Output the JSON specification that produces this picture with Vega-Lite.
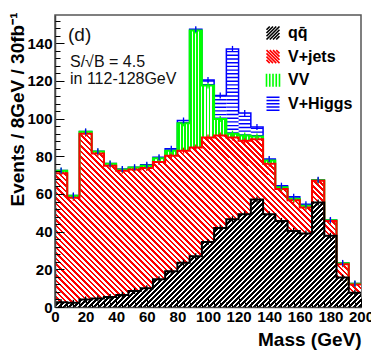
{
"$schema": "https://vega.github.io/schema/vega-lite/v6.json",
"width": 306, "height": 292,
"autosize": {"type": "none"},
"padding": {"left": 55, "top": 15, "right": 10, "bottom": 51},
"background": "white",
"config": {"view": {"stroke": "#555", "strokeWidth": 1.5}, "font": "Liberation Sans", "axis": {"grid": false}},
"data": {"values": [
{"lo":0,"hi":8,"process":"qq\u0304","events":2.5},{"lo":0,"hi":8,"process":"V+jets","events":68.5},{"lo":0,"hi":8,"process":"VV","events":1.3},{"lo":0,"hi":8,"process":"V+Higgs","events":0.2},
{"lo":8,"hi":16,"process":"qq\u0304","events":2.2},{"lo":8,"hi":16,"process":"V+jets","events":55.8},{"lo":8,"hi":16,"process":"VV","events":1.0},{"lo":8,"hi":16,"process":"V+Higgs","events":0.2},
{"lo":16,"hi":24,"process":"qq\u0304","events":4.0},{"lo":16,"hi":24,"process":"V+jets","events":88.0},{"lo":16,"hi":24,"process":"VV","events":1.0},{"lo":16,"hi":24,"process":"V+Higgs","events":0.2},
{"lo":24,"hi":32,"process":"qq\u0304","events":4.5},{"lo":24,"hi":32,"process":"V+jets","events":77.0},{"lo":24,"hi":32,"process":"VV","events":1.0},{"lo":24,"hi":32,"process":"V+Higgs","events":0.2},
{"lo":32,"hi":40,"process":"qq\u0304","events":5.3},{"lo":32,"hi":40,"process":"V+jets","events":69.7},{"lo":32,"hi":40,"process":"VV","events":1.0},{"lo":32,"hi":40,"process":"V+Higgs","events":0.2},
{"lo":40,"hi":48,"process":"qq\u0304","events":6.4},{"lo":40,"hi":48,"process":"V+jets","events":65.9},{"lo":40,"hi":48,"process":"VV","events":0.7},{"lo":40,"hi":48,"process":"V+Higgs","events":0.2},
{"lo":48,"hi":56,"process":"qq\u0304","events":8.5},{"lo":48,"hi":56,"process":"V+jets","events":64.5},{"lo":48,"hi":56,"process":"VV","events":1.0},{"lo":48,"hi":56,"process":"V+Higgs","events":0.2},
{"lo":56,"hi":64,"process":"qq\u0304","events":10.0},{"lo":56,"hi":64,"process":"V+jets","events":63.8},{"lo":56,"hi":64,"process":"VV","events":1.2},{"lo":56,"hi":64,"process":"V+Higgs","events":0.5},
{"lo":64,"hi":72,"process":"qq\u0304","events":14.7},{"lo":64,"hi":72,"process":"V+jets","events":62.3},{"lo":64,"hi":72,"process":"VV","events":2.0},{"lo":64,"hi":72,"process":"V+Higgs","events":0.5},
{"lo":72,"hi":80,"process":"qq\u0304","events":19.0},{"lo":72,"hi":80,"process":"V+jets","events":61.3},{"lo":72,"hi":80,"process":"VV","events":2.7},{"lo":72,"hi":80,"process":"V+Higgs","events":1.0},
{"lo":80,"hi":88,"process":"qq\u0304","events":23.5},{"lo":80,"hi":88,"process":"V+jets","events":59.5},{"lo":80,"hi":88,"process":"VV","events":14.5},{"lo":80,"hi":88,"process":"V+Higgs","events":1.5},
{"lo":88,"hi":96,"process":"qq\u0304","events":27.0},{"lo":88,"hi":96,"process":"V+jets","events":57.7},{"lo":88,"hi":96,"process":"VV","events":62.1},{"lo":88,"hi":96,"process":"V+Higgs","events":0.7},
{"lo":96,"hi":104,"process":"qq\u0304","events":34.5},{"lo":96,"hi":104,"process":"V+jets","events":55.5},{"lo":96,"hi":104,"process":"VV","events":27.6},{"lo":96,"hi":104,"process":"V+Higgs","events":2.9},
{"lo":104,"hi":112,"process":"qq\u0304","events":42.0},{"lo":104,"hi":112,"process":"V+jets","events":49.0},{"lo":104,"hi":112,"process":"VV","events":8.8},{"lo":104,"hi":112,"process":"V+Higgs","events":12.5},
{"lo":112,"hi":120,"process":"qq\u0304","events":46.6},{"lo":112,"hi":120,"process":"V+jets","events":43.4},{"lo":112,"hi":120,"process":"VV","events":2.0},{"lo":112,"hi":120,"process":"V+Higgs","events":45.0},
{"lo":120,"hi":128,"process":"qq\u0304","events":49.3},{"lo":120,"hi":128,"process":"V+jets","events":39.0},{"lo":120,"hi":128,"process":"VV","events":2.7},{"lo":120,"hi":128,"process":"V+Higgs","events":12.0},
{"lo":128,"hi":136,"process":"qq\u0304","events":57.0},{"lo":128,"hi":136,"process":"V+jets","events":32.0},{"lo":128,"hi":136,"process":"VV","events":1.5},{"lo":128,"hi":136,"process":"V+Higgs","events":5.0},
{"lo":136,"hi":144,"process":"qq\u0304","events":49.3},{"lo":136,"hi":144,"process":"V+jets","events":26.7},{"lo":136,"hi":144,"process":"VV","events":1.7},{"lo":136,"hi":144,"process":"V+Higgs","events":0.8},
{"lo":144,"hi":152,"process":"qq\u0304","events":45.7},{"lo":144,"hi":152,"process":"V+jets","events":16.9},{"lo":144,"hi":152,"process":"VV","events":0.9},{"lo":144,"hi":152,"process":"V+Higgs","events":0.9},
{"lo":152,"hi":160,"process":"qq\u0304","events":40.4},{"lo":152,"hi":160,"process":"V+jets","events":16.3},{"lo":152,"hi":160,"process":"VV","events":0.8},{"lo":152,"hi":160,"process":"V+Higgs","events":1.0},
{"lo":160,"hi":168,"process":"qq\u0304","events":39.0},{"lo":160,"hi":168,"process":"V+jets","events":13.8},{"lo":160,"hi":168,"process":"VV","events":1.0},{"lo":160,"hi":168,"process":"V+Higgs","events":0.8},
{"lo":168,"hi":176,"process":"qq\u0304","events":55.5},{"lo":168,"hi":176,"process":"V+jets","events":11.5},{"lo":168,"hi":176,"process":"VV","events":0.3},{"lo":168,"hi":176,"process":"V+Higgs","events":0.2},
{"lo":176,"hi":184,"process":"qq\u0304","events":37.8},{"lo":176,"hi":184,"process":"V+jets","events":7.9},{"lo":176,"hi":184,"process":"VV","events":0.3},{"lo":176,"hi":184,"process":"V+Higgs","events":0.2},
{"lo":184,"hi":192,"process":"qq\u0304","events":15.6},{"lo":184,"hi":192,"process":"V+jets","events":7.1},{"lo":184,"hi":192,"process":"VV","events":0.5},{"lo":184,"hi":192,"process":"V+Higgs","events":0.2},
{"lo":192,"hi":200,"process":"qq\u0304","events":7.6},{"lo":192,"hi":200,"process":"V+jets","events":4.4},{"lo":192,"hi":200,"process":"VV","events":0.3},{"lo":192,"hi":200,"process":"V+Higgs","events":0.2}
]},
"transform": [{"stack": "events", "groupby": ["lo"], "as": ["y0", "y1"]}],
"resolve": {"axis": {"x": "independent", "y": "independent"}},
"layer": [
{
"transform": [{"filter": {"field": "process", "equal": "qq\u0304"}}, {"fold": ["lo", "hi"], "as": ["edge", "mass"]}],
"mark": {"type": "area", "strokeWidth": 0, "fill": {"gradient": "linear", "x1": 0, "y1": 0, "x2": 1.455, "y2": 0.511, "stops": [
{"offset":0,"color":"#000"},{"offset":0.005,"color":"#000"},{"offset":0.005,"color":"#fff"},{"offset":0.01,"color":"#fff"},{"offset":0.01,"color":"#000"},{"offset":0.015,"color":"#000"},{"offset":0.015,"color":"#fff"},{"offset":0.02,"color":"#fff"},{"offset":0.02,"color":"#000"},{"offset":0.025,"color":"#000"},{"offset":0.025,"color":"#fff"},{"offset":0.03,"color":"#fff"},{"offset":0.03,"color":"#000"},{"offset":0.035,"color":"#000"},{"offset":0.035,"color":"#fff"},{"offset":0.04,"color":"#fff"},{"offset":0.04,"color":"#000"},{"offset":0.045,"color":"#000"},{"offset":0.045,"color":"#fff"},{"offset":0.05,"color":"#fff"},
{"offset":0.05,"color":"#000"},{"offset":0.055,"color":"#000"},{"offset":0.055,"color":"#fff"},{"offset":0.06,"color":"#fff"},{"offset":0.06,"color":"#000"},{"offset":0.065,"color":"#000"},{"offset":0.065,"color":"#fff"},{"offset":0.07,"color":"#fff"},{"offset":0.07,"color":"#000"},{"offset":0.075,"color":"#000"},{"offset":0.075,"color":"#fff"},{"offset":0.08,"color":"#fff"},{"offset":0.08,"color":"#000"},{"offset":0.085,"color":"#000"},{"offset":0.085,"color":"#fff"},{"offset":0.09,"color":"#fff"},{"offset":0.09,"color":"#000"},{"offset":0.095,"color":"#000"},{"offset":0.095,"color":"#fff"},{"offset":0.1,"color":"#fff"},
{"offset":0.1,"color":"#000"},{"offset":0.105,"color":"#000"},{"offset":0.105,"color":"#fff"},{"offset":0.11,"color":"#fff"},{"offset":0.11,"color":"#000"},{"offset":0.115,"color":"#000"},{"offset":0.115,"color":"#fff"},{"offset":0.12,"color":"#fff"},{"offset":0.12,"color":"#000"},{"offset":0.125,"color":"#000"},{"offset":0.125,"color":"#fff"},{"offset":0.13,"color":"#fff"},{"offset":0.13,"color":"#000"},{"offset":0.135,"color":"#000"},{"offset":0.135,"color":"#fff"},{"offset":0.14,"color":"#fff"},{"offset":0.14,"color":"#000"},{"offset":0.145,"color":"#000"},{"offset":0.145,"color":"#fff"},{"offset":0.15,"color":"#fff"},
{"offset":0.15,"color":"#000"},{"offset":0.155,"color":"#000"},{"offset":0.155,"color":"#fff"},{"offset":0.16,"color":"#fff"},{"offset":0.16,"color":"#000"},{"offset":0.165,"color":"#000"},{"offset":0.165,"color":"#fff"},{"offset":0.17,"color":"#fff"},{"offset":0.17,"color":"#000"},{"offset":0.175,"color":"#000"},{"offset":0.175,"color":"#fff"},{"offset":0.18,"color":"#fff"},{"offset":0.18,"color":"#000"},{"offset":0.185,"color":"#000"},{"offset":0.185,"color":"#fff"},{"offset":0.19,"color":"#fff"},{"offset":0.19,"color":"#000"},{"offset":0.195,"color":"#000"},{"offset":0.195,"color":"#fff"},{"offset":0.2,"color":"#fff"},
{"offset":0.2,"color":"#000"},{"offset":0.205,"color":"#000"},{"offset":0.205,"color":"#fff"},{"offset":0.21,"color":"#fff"},{"offset":0.21,"color":"#000"},{"offset":0.215,"color":"#000"},{"offset":0.215,"color":"#fff"},{"offset":0.22,"color":"#fff"},{"offset":0.22,"color":"#000"},{"offset":0.225,"color":"#000"},{"offset":0.225,"color":"#fff"},{"offset":0.23,"color":"#fff"},{"offset":0.23,"color":"#000"},{"offset":0.235,"color":"#000"},{"offset":0.235,"color":"#fff"},{"offset":0.24,"color":"#fff"},{"offset":0.24,"color":"#000"},{"offset":0.245,"color":"#000"},{"offset":0.245,"color":"#fff"},{"offset":0.25,"color":"#fff"},
{"offset":0.25,"color":"#000"},{"offset":0.255,"color":"#000"},{"offset":0.255,"color":"#fff"},{"offset":0.26,"color":"#fff"},{"offset":0.26,"color":"#000"},{"offset":0.265,"color":"#000"},{"offset":0.265,"color":"#fff"},{"offset":0.27,"color":"#fff"},{"offset":0.27,"color":"#000"},{"offset":0.275,"color":"#000"},{"offset":0.275,"color":"#fff"},{"offset":0.28,"color":"#fff"},{"offset":0.28,"color":"#000"},{"offset":0.285,"color":"#000"},{"offset":0.285,"color":"#fff"},{"offset":0.29,"color":"#fff"},{"offset":0.29,"color":"#000"},{"offset":0.295,"color":"#000"},{"offset":0.295,"color":"#fff"},{"offset":0.3,"color":"#fff"},
{"offset":0.3,"color":"#000"},{"offset":0.305,"color":"#000"},{"offset":0.305,"color":"#fff"},{"offset":0.31,"color":"#fff"},{"offset":0.31,"color":"#000"},{"offset":0.315,"color":"#000"},{"offset":0.315,"color":"#fff"},{"offset":0.32,"color":"#fff"},{"offset":0.32,"color":"#000"},{"offset":0.325,"color":"#000"},{"offset":0.325,"color":"#fff"},{"offset":0.33,"color":"#fff"},{"offset":0.33,"color":"#000"},{"offset":0.335,"color":"#000"},{"offset":0.335,"color":"#fff"},{"offset":0.34,"color":"#fff"},{"offset":0.34,"color":"#000"},{"offset":0.345,"color":"#000"},{"offset":0.345,"color":"#fff"},{"offset":0.35,"color":"#fff"},
{"offset":0.35,"color":"#000"},{"offset":0.355,"color":"#000"},{"offset":0.355,"color":"#fff"},{"offset":0.36,"color":"#fff"},{"offset":0.36,"color":"#000"},{"offset":0.365,"color":"#000"},{"offset":0.365,"color":"#fff"},{"offset":0.37,"color":"#fff"},{"offset":0.37,"color":"#000"},{"offset":0.375,"color":"#000"},{"offset":0.375,"color":"#fff"},{"offset":0.38,"color":"#fff"},{"offset":0.38,"color":"#000"},{"offset":0.385,"color":"#000"},{"offset":0.385,"color":"#fff"},{"offset":0.39,"color":"#fff"},{"offset":0.39,"color":"#000"},{"offset":0.395,"color":"#000"},{"offset":0.395,"color":"#fff"},{"offset":0.4,"color":"#fff"},
{"offset":0.4,"color":"#000"},{"offset":0.405,"color":"#000"},{"offset":0.405,"color":"#fff"},{"offset":0.41,"color":"#fff"},{"offset":0.41,"color":"#000"},{"offset":0.415,"color":"#000"},{"offset":0.415,"color":"#fff"},{"offset":0.42,"color":"#fff"},{"offset":0.42,"color":"#000"},{"offset":0.425,"color":"#000"},{"offset":0.425,"color":"#fff"},{"offset":0.43,"color":"#fff"},{"offset":0.43,"color":"#000"},{"offset":0.435,"color":"#000"},{"offset":0.435,"color":"#fff"},{"offset":0.44,"color":"#fff"},{"offset":0.44,"color":"#000"},{"offset":0.445,"color":"#000"},{"offset":0.445,"color":"#fff"},{"offset":0.45,"color":"#fff"},
{"offset":0.45,"color":"#000"},{"offset":0.455,"color":"#000"},{"offset":0.455,"color":"#fff"},{"offset":0.46,"color":"#fff"},{"offset":0.46,"color":"#000"},{"offset":0.465,"color":"#000"},{"offset":0.465,"color":"#fff"},{"offset":0.47,"color":"#fff"},{"offset":0.47,"color":"#000"},{"offset":0.475,"color":"#000"},{"offset":0.475,"color":"#fff"},{"offset":0.48,"color":"#fff"},{"offset":0.48,"color":"#000"},{"offset":0.485,"color":"#000"},{"offset":0.485,"color":"#fff"},{"offset":0.49,"color":"#fff"},{"offset":0.49,"color":"#000"},{"offset":0.495,"color":"#000"},{"offset":0.495,"color":"#fff"},{"offset":0.5,"color":"#fff"},
{"offset":0.5,"color":"#000"},{"offset":0.505,"color":"#000"},{"offset":0.505,"color":"#fff"},{"offset":0.51,"color":"#fff"},{"offset":0.51,"color":"#000"},{"offset":0.515,"color":"#000"},{"offset":0.515,"color":"#fff"},{"offset":0.52,"color":"#fff"},{"offset":0.52,"color":"#000"},{"offset":0.525,"color":"#000"},{"offset":0.525,"color":"#fff"},{"offset":0.53,"color":"#fff"},{"offset":0.53,"color":"#000"},{"offset":0.535,"color":"#000"},{"offset":0.535,"color":"#fff"},{"offset":0.54,"color":"#fff"},{"offset":0.54,"color":"#000"},{"offset":0.545,"color":"#000"},{"offset":0.545,"color":"#fff"},{"offset":0.55,"color":"#fff"},
{"offset":0.55,"color":"#000"},{"offset":0.555,"color":"#000"},{"offset":0.555,"color":"#fff"},{"offset":0.56,"color":"#fff"},{"offset":0.56,"color":"#000"},{"offset":0.565,"color":"#000"},{"offset":0.565,"color":"#fff"},{"offset":0.57,"color":"#fff"},{"offset":0.57,"color":"#000"},{"offset":0.575,"color":"#000"},{"offset":0.575,"color":"#fff"},{"offset":0.58,"color":"#fff"},{"offset":0.58,"color":"#000"},{"offset":0.585,"color":"#000"},{"offset":0.585,"color":"#fff"},{"offset":0.59,"color":"#fff"},{"offset":0.59,"color":"#000"},{"offset":0.595,"color":"#000"},{"offset":0.595,"color":"#fff"},{"offset":0.6,"color":"#fff"},
{"offset":0.6,"color":"#000"},{"offset":0.605,"color":"#000"},{"offset":0.605,"color":"#fff"},{"offset":0.61,"color":"#fff"},{"offset":0.61,"color":"#000"},{"offset":0.615,"color":"#000"},{"offset":0.615,"color":"#fff"},{"offset":0.62,"color":"#fff"},{"offset":0.62,"color":"#000"},{"offset":0.625,"color":"#000"},{"offset":0.625,"color":"#fff"},{"offset":0.63,"color":"#fff"},{"offset":0.63,"color":"#000"},{"offset":0.635,"color":"#000"},{"offset":0.635,"color":"#fff"},{"offset":0.64,"color":"#fff"},{"offset":0.64,"color":"#000"},{"offset":0.645,"color":"#000"},{"offset":0.645,"color":"#fff"},{"offset":0.65,"color":"#fff"},
{"offset":0.65,"color":"#000"},{"offset":0.655,"color":"#000"},{"offset":0.655,"color":"#fff"},{"offset":0.66,"color":"#fff"},{"offset":0.66,"color":"#000"},{"offset":0.665,"color":"#000"},{"offset":0.665,"color":"#fff"},{"offset":0.67,"color":"#fff"},{"offset":0.67,"color":"#000"},{"offset":0.675,"color":"#000"},{"offset":0.675,"color":"#fff"},{"offset":0.68,"color":"#fff"},{"offset":0.68,"color":"#000"},{"offset":0.685,"color":"#000"},{"offset":0.685,"color":"#fff"},{"offset":0.69,"color":"#fff"},{"offset":0.69,"color":"#000"},{"offset":0.695,"color":"#000"},{"offset":0.695,"color":"#fff"},{"offset":0.7,"color":"#fff"},
{"offset":0.7,"color":"#000"},{"offset":0.705,"color":"#000"},{"offset":0.705,"color":"#fff"},{"offset":0.71,"color":"#fff"},{"offset":0.71,"color":"#000"},{"offset":0.715,"color":"#000"},{"offset":0.715,"color":"#fff"},{"offset":0.72,"color":"#fff"},{"offset":0.72,"color":"#000"},{"offset":0.725,"color":"#000"},{"offset":0.725,"color":"#fff"},{"offset":0.73,"color":"#fff"},{"offset":0.73,"color":"#000"},{"offset":0.735,"color":"#000"},{"offset":0.735,"color":"#fff"},{"offset":0.74,"color":"#fff"},{"offset":0.74,"color":"#000"},{"offset":0.745,"color":"#000"},{"offset":0.745,"color":"#fff"},{"offset":0.75,"color":"#fff"},
{"offset":0.75,"color":"#000"},{"offset":0.755,"color":"#000"},{"offset":0.755,"color":"#fff"},{"offset":0.76,"color":"#fff"},{"offset":0.76,"color":"#000"},{"offset":0.765,"color":"#000"},{"offset":0.765,"color":"#fff"},{"offset":0.77,"color":"#fff"},{"offset":0.77,"color":"#000"},{"offset":0.775,"color":"#000"},{"offset":0.775,"color":"#fff"},{"offset":0.78,"color":"#fff"},{"offset":0.78,"color":"#000"},{"offset":0.785,"color":"#000"},{"offset":0.785,"color":"#fff"},{"offset":0.79,"color":"#fff"},{"offset":0.79,"color":"#000"},{"offset":0.795,"color":"#000"},{"offset":0.795,"color":"#fff"},{"offset":0.8,"color":"#fff"},
{"offset":0.8,"color":"#000"},{"offset":0.805,"color":"#000"},{"offset":0.805,"color":"#fff"},{"offset":0.81,"color":"#fff"},{"offset":0.81,"color":"#000"},{"offset":0.815,"color":"#000"},{"offset":0.815,"color":"#fff"},{"offset":0.82,"color":"#fff"},{"offset":0.82,"color":"#000"},{"offset":0.825,"color":"#000"},{"offset":0.825,"color":"#fff"},{"offset":0.83,"color":"#fff"},{"offset":0.83,"color":"#000"},{"offset":0.835,"color":"#000"},{"offset":0.835,"color":"#fff"},{"offset":0.84,"color":"#fff"}
]}},
"encoding": {
"x": {"field": "mass", "type": "quantitative", "scale": {"domain": [0, 200], "nice": false, "zero": false},
 "axis": {"orient": "bottom", "values": [0,20,40,60,80,100,120,140,160,180,200], "tickSize": -9, "tickColor": "#000", "tickWidth": 1, "domainColor": "#444", "domainWidth": 1.5, "labelPadding": 11, "labelFontSize": 15, "labelFontWeight": "bold", "labelColor": "#000", "labelFlush": false, "labelOverlap": false, "title": "Mass (GeV)", "titleFontSize": 19, "titleFontWeight": "bold", "titleColor": "#000", "titleAlign": "right", "titleBaseline": "alphabetic", "titleX": 306, "titleY": 38, "zindex": 1}},
"y": {"field": "y1", "type": "quantitative", "scale": {"domain": [0, 155], "nice": false},
 "axis": {"orient": "left", "values": [0,20,40,60,80,100,120,140], "tickSize": -9, "tickColor": "#000", "tickWidth": 1, "domainColor": "#444", "domainWidth": 1.5, "labelPadding": 12, "labelFontSize": 15, "labelFontWeight": "bold", "labelColor": "#000", "labelOverlap": false, "title": "Events / 8GeV / 30fb\u207b\u00b9", "titleFontSize": 19, "titleFontWeight": "bold", "titleColor": "#000", "titleAngle": -90, "titleAlign": "right", "titleBaseline": "middle", "titleX": -38, "titleY": -3, "zindex": 1}},
"y2": {"field": "y0"},
"order": [{"field": "mass", "type": "quantitative"}, {"field": "lo", "type": "quantitative"}]
}
},
{
"transform": [{"filter": {"field": "process", "equal": "V+jets"}}, {"fold": ["lo", "hi"], "as": ["edge", "mass"]}],
"mark": {"type": "area", "strokeWidth": 0, "fill": {"gradient": "linear", "x1": 0, "y1": 1, "x2": 1.376, "y2": 0.239, "stops": [
{"offset":0,"color":"#f00"},{"offset":0.005,"color":"#f00"},{"offset":0.005,"color":"#fff"},{"offset":0.01,"color":"#fff"},{"offset":0.01,"color":"#f00"},{"offset":0.015,"color":"#f00"},{"offset":0.015,"color":"#fff"},{"offset":0.02,"color":"#fff"},{"offset":0.02,"color":"#f00"},{"offset":0.025,"color":"#f00"},{"offset":0.025,"color":"#fff"},{"offset":0.03,"color":"#fff"},{"offset":0.03,"color":"#f00"},{"offset":0.035,"color":"#f00"},{"offset":0.035,"color":"#fff"},{"offset":0.04,"color":"#fff"},{"offset":0.04,"color":"#f00"},{"offset":0.045,"color":"#f00"},{"offset":0.045,"color":"#fff"},{"offset":0.05,"color":"#fff"},
{"offset":0.05,"color":"#f00"},{"offset":0.055,"color":"#f00"},{"offset":0.055,"color":"#fff"},{"offset":0.06,"color":"#fff"},{"offset":0.06,"color":"#f00"},{"offset":0.065,"color":"#f00"},{"offset":0.065,"color":"#fff"},{"offset":0.07,"color":"#fff"},{"offset":0.07,"color":"#f00"},{"offset":0.075,"color":"#f00"},{"offset":0.075,"color":"#fff"},{"offset":0.08,"color":"#fff"},{"offset":0.08,"color":"#f00"},{"offset":0.085,"color":"#f00"},{"offset":0.085,"color":"#fff"},{"offset":0.09,"color":"#fff"},{"offset":0.09,"color":"#f00"},{"offset":0.095,"color":"#f00"},{"offset":0.095,"color":"#fff"},{"offset":0.1,"color":"#fff"},
{"offset":0.1,"color":"#f00"},{"offset":0.105,"color":"#f00"},{"offset":0.105,"color":"#fff"},{"offset":0.11,"color":"#fff"},{"offset":0.11,"color":"#f00"},{"offset":0.115,"color":"#f00"},{"offset":0.115,"color":"#fff"},{"offset":0.12,"color":"#fff"},{"offset":0.12,"color":"#f00"},{"offset":0.125,"color":"#f00"},{"offset":0.125,"color":"#fff"},{"offset":0.13,"color":"#fff"},{"offset":0.13,"color":"#f00"},{"offset":0.135,"color":"#f00"},{"offset":0.135,"color":"#fff"},{"offset":0.14,"color":"#fff"},{"offset":0.14,"color":"#f00"},{"offset":0.145,"color":"#f00"},{"offset":0.145,"color":"#fff"},{"offset":0.15,"color":"#fff"},
{"offset":0.15,"color":"#f00"},{"offset":0.155,"color":"#f00"},{"offset":0.155,"color":"#fff"},{"offset":0.16,"color":"#fff"},{"offset":0.16,"color":"#f00"},{"offset":0.165,"color":"#f00"},{"offset":0.165,"color":"#fff"},{"offset":0.17,"color":"#fff"},{"offset":0.17,"color":"#f00"},{"offset":0.175,"color":"#f00"},{"offset":0.175,"color":"#fff"},{"offset":0.18,"color":"#fff"},{"offset":0.18,"color":"#f00"},{"offset":0.185,"color":"#f00"},{"offset":0.185,"color":"#fff"},{"offset":0.19,"color":"#fff"},{"offset":0.19,"color":"#f00"},{"offset":0.195,"color":"#f00"},{"offset":0.195,"color":"#fff"},{"offset":0.2,"color":"#fff"},
{"offset":0.2,"color":"#f00"},{"offset":0.205,"color":"#f00"},{"offset":0.205,"color":"#fff"},{"offset":0.21,"color":"#fff"},{"offset":0.21,"color":"#f00"},{"offset":0.215,"color":"#f00"},{"offset":0.215,"color":"#fff"},{"offset":0.22,"color":"#fff"},{"offset":0.22,"color":"#f00"},{"offset":0.225,"color":"#f00"},{"offset":0.225,"color":"#fff"},{"offset":0.23,"color":"#fff"},{"offset":0.23,"color":"#f00"},{"offset":0.235,"color":"#f00"},{"offset":0.235,"color":"#fff"},{"offset":0.24,"color":"#fff"},{"offset":0.24,"color":"#f00"},{"offset":0.245,"color":"#f00"},{"offset":0.245,"color":"#fff"},{"offset":0.25,"color":"#fff"},
{"offset":0.25,"color":"#f00"},{"offset":0.255,"color":"#f00"},{"offset":0.255,"color":"#fff"},{"offset":0.26,"color":"#fff"},{"offset":0.26,"color":"#f00"},{"offset":0.265,"color":"#f00"},{"offset":0.265,"color":"#fff"},{"offset":0.27,"color":"#fff"},{"offset":0.27,"color":"#f00"},{"offset":0.275,"color":"#f00"},{"offset":0.275,"color":"#fff"},{"offset":0.28,"color":"#fff"},{"offset":0.28,"color":"#f00"},{"offset":0.285,"color":"#f00"},{"offset":0.285,"color":"#fff"},{"offset":0.29,"color":"#fff"},{"offset":0.29,"color":"#f00"},{"offset":0.295,"color":"#f00"},{"offset":0.295,"color":"#fff"},{"offset":0.3,"color":"#fff"},
{"offset":0.3,"color":"#f00"},{"offset":0.305,"color":"#f00"},{"offset":0.305,"color":"#fff"},{"offset":0.31,"color":"#fff"},{"offset":0.31,"color":"#f00"},{"offset":0.315,"color":"#f00"},{"offset":0.315,"color":"#fff"},{"offset":0.32,"color":"#fff"},{"offset":0.32,"color":"#f00"},{"offset":0.325,"color":"#f00"},{"offset":0.325,"color":"#fff"},{"offset":0.33,"color":"#fff"},{"offset":0.33,"color":"#f00"},{"offset":0.335,"color":"#f00"},{"offset":0.335,"color":"#fff"},{"offset":0.34,"color":"#fff"},{"offset":0.34,"color":"#f00"},{"offset":0.345,"color":"#f00"},{"offset":0.345,"color":"#fff"},{"offset":0.35,"color":"#fff"},
{"offset":0.35,"color":"#f00"},{"offset":0.355,"color":"#f00"},{"offset":0.355,"color":"#fff"},{"offset":0.36,"color":"#fff"},{"offset":0.36,"color":"#f00"},{"offset":0.365,"color":"#f00"},{"offset":0.365,"color":"#fff"},{"offset":0.37,"color":"#fff"},{"offset":0.37,"color":"#f00"},{"offset":0.375,"color":"#f00"},{"offset":0.375,"color":"#fff"},{"offset":0.38,"color":"#fff"},{"offset":0.38,"color":"#f00"},{"offset":0.385,"color":"#f00"},{"offset":0.385,"color":"#fff"},{"offset":0.39,"color":"#fff"},{"offset":0.39,"color":"#f00"},{"offset":0.395,"color":"#f00"},{"offset":0.395,"color":"#fff"},{"offset":0.4,"color":"#fff"},
{"offset":0.4,"color":"#f00"},{"offset":0.405,"color":"#f00"},{"offset":0.405,"color":"#fff"},{"offset":0.41,"color":"#fff"},{"offset":0.41,"color":"#f00"},{"offset":0.415,"color":"#f00"},{"offset":0.415,"color":"#fff"},{"offset":0.42,"color":"#fff"},{"offset":0.42,"color":"#f00"},{"offset":0.425,"color":"#f00"},{"offset":0.425,"color":"#fff"},{"offset":0.43,"color":"#fff"},{"offset":0.43,"color":"#f00"},{"offset":0.435,"color":"#f00"},{"offset":0.435,"color":"#fff"},{"offset":0.44,"color":"#fff"},{"offset":0.44,"color":"#f00"},{"offset":0.445,"color":"#f00"},{"offset":0.445,"color":"#fff"},{"offset":0.45,"color":"#fff"},
{"offset":0.45,"color":"#f00"},{"offset":0.455,"color":"#f00"},{"offset":0.455,"color":"#fff"},{"offset":0.46,"color":"#fff"},{"offset":0.46,"color":"#f00"},{"offset":0.465,"color":"#f00"},{"offset":0.465,"color":"#fff"},{"offset":0.47,"color":"#fff"},{"offset":0.47,"color":"#f00"},{"offset":0.475,"color":"#f00"},{"offset":0.475,"color":"#fff"},{"offset":0.48,"color":"#fff"},{"offset":0.48,"color":"#f00"},{"offset":0.485,"color":"#f00"},{"offset":0.485,"color":"#fff"},{"offset":0.49,"color":"#fff"},{"offset":0.49,"color":"#f00"},{"offset":0.495,"color":"#f00"},{"offset":0.495,"color":"#fff"},{"offset":0.5,"color":"#fff"},
{"offset":0.5,"color":"#f00"},{"offset":0.505,"color":"#f00"},{"offset":0.505,"color":"#fff"},{"offset":0.51,"color":"#fff"},{"offset":0.51,"color":"#f00"},{"offset":0.515,"color":"#f00"},{"offset":0.515,"color":"#fff"},{"offset":0.52,"color":"#fff"},{"offset":0.52,"color":"#f00"},{"offset":0.525,"color":"#f00"},{"offset":0.525,"color":"#fff"},{"offset":0.53,"color":"#fff"},{"offset":0.53,"color":"#f00"},{"offset":0.535,"color":"#f00"},{"offset":0.535,"color":"#fff"},{"offset":0.54,"color":"#fff"},{"offset":0.54,"color":"#f00"},{"offset":0.545,"color":"#f00"},{"offset":0.545,"color":"#fff"},{"offset":0.55,"color":"#fff"},
{"offset":0.55,"color":"#f00"},{"offset":0.555,"color":"#f00"},{"offset":0.555,"color":"#fff"},{"offset":0.56,"color":"#fff"},{"offset":0.56,"color":"#f00"},{"offset":0.565,"color":"#f00"},{"offset":0.565,"color":"#fff"},{"offset":0.57,"color":"#fff"},{"offset":0.57,"color":"#f00"},{"offset":0.575,"color":"#f00"},{"offset":0.575,"color":"#fff"},{"offset":0.58,"color":"#fff"},{"offset":0.58,"color":"#f00"},{"offset":0.585,"color":"#f00"},{"offset":0.585,"color":"#fff"},{"offset":0.59,"color":"#fff"},{"offset":0.59,"color":"#f00"},{"offset":0.595,"color":"#f00"},{"offset":0.595,"color":"#fff"},{"offset":0.6,"color":"#fff"},
{"offset":0.6,"color":"#f00"},{"offset":0.605,"color":"#f00"},{"offset":0.605,"color":"#fff"},{"offset":0.61,"color":"#fff"},{"offset":0.61,"color":"#f00"},{"offset":0.615,"color":"#f00"},{"offset":0.615,"color":"#fff"},{"offset":0.62,"color":"#fff"},{"offset":0.62,"color":"#f00"},{"offset":0.625,"color":"#f00"},{"offset":0.625,"color":"#fff"},{"offset":0.63,"color":"#fff"},{"offset":0.63,"color":"#f00"},{"offset":0.635,"color":"#f00"},{"offset":0.635,"color":"#fff"},{"offset":0.64,"color":"#fff"},{"offset":0.64,"color":"#f00"},{"offset":0.645,"color":"#f00"},{"offset":0.645,"color":"#fff"},{"offset":0.65,"color":"#fff"},
{"offset":0.65,"color":"#f00"},{"offset":0.655,"color":"#f00"},{"offset":0.655,"color":"#fff"},{"offset":0.66,"color":"#fff"},{"offset":0.66,"color":"#f00"},{"offset":0.665,"color":"#f00"},{"offset":0.665,"color":"#fff"},{"offset":0.67,"color":"#fff"},{"offset":0.67,"color":"#f00"},{"offset":0.675,"color":"#f00"},{"offset":0.675,"color":"#fff"},{"offset":0.68,"color":"#fff"},{"offset":0.68,"color":"#f00"},{"offset":0.685,"color":"#f00"},{"offset":0.685,"color":"#fff"},{"offset":0.69,"color":"#fff"},{"offset":0.69,"color":"#f00"},{"offset":0.695,"color":"#f00"},{"offset":0.695,"color":"#fff"},{"offset":0.7,"color":"#fff"},
{"offset":0.7,"color":"#f00"},{"offset":0.705,"color":"#f00"},{"offset":0.705,"color":"#fff"},{"offset":0.71,"color":"#fff"},{"offset":0.71,"color":"#f00"},{"offset":0.715,"color":"#f00"},{"offset":0.715,"color":"#fff"},{"offset":0.72,"color":"#fff"},{"offset":0.72,"color":"#f00"},{"offset":0.725,"color":"#f00"},{"offset":0.725,"color":"#fff"},{"offset":0.73,"color":"#fff"},{"offset":0.73,"color":"#f00"},{"offset":0.735,"color":"#f00"},{"offset":0.735,"color":"#fff"},{"offset":0.74,"color":"#fff"},{"offset":0.74,"color":"#f00"},{"offset":0.745,"color":"#f00"},{"offset":0.745,"color":"#fff"},{"offset":0.75,"color":"#fff"},
{"offset":0.75,"color":"#f00"},{"offset":0.755,"color":"#f00"},{"offset":0.755,"color":"#fff"},{"offset":0.76,"color":"#fff"},{"offset":0.76,"color":"#f00"},{"offset":0.765,"color":"#f00"},{"offset":0.765,"color":"#fff"},{"offset":0.77,"color":"#fff"},{"offset":0.77,"color":"#f00"},{"offset":0.775,"color":"#f00"},{"offset":0.775,"color":"#fff"},{"offset":0.78,"color":"#fff"},{"offset":0.78,"color":"#f00"},{"offset":0.785,"color":"#f00"},{"offset":0.785,"color":"#fff"},{"offset":0.79,"color":"#fff"},{"offset":0.79,"color":"#f00"},{"offset":0.795,"color":"#f00"},{"offset":0.795,"color":"#fff"},{"offset":0.8,"color":"#fff"},
{"offset":0.8,"color":"#f00"},{"offset":0.805,"color":"#f00"},{"offset":0.805,"color":"#fff"},{"offset":0.81,"color":"#fff"},{"offset":0.81,"color":"#f00"},{"offset":0.815,"color":"#f00"},{"offset":0.815,"color":"#fff"},{"offset":0.82,"color":"#fff"},{"offset":0.82,"color":"#f00"},{"offset":0.825,"color":"#f00"},{"offset":0.825,"color":"#fff"},{"offset":0.83,"color":"#fff"},{"offset":0.83,"color":"#f00"},{"offset":0.835,"color":"#f00"},{"offset":0.835,"color":"#fff"},{"offset":0.84,"color":"#fff"},{"offset":0.84,"color":"#f00"},{"offset":0.845,"color":"#f00"},{"offset":0.845,"color":"#fff"},{"offset":0.85,"color":"#fff"},
{"offset":0.85,"color":"#f00"},{"offset":0.855,"color":"#f00"},{"offset":0.855,"color":"#fff"},{"offset":0.86,"color":"#fff"},{"offset":0.86,"color":"#f00"},{"offset":0.865,"color":"#f00"},{"offset":0.865,"color":"#fff"},{"offset":0.87,"color":"#fff"},{"offset":0.87,"color":"#f00"},{"offset":0.875,"color":"#f00"},{"offset":0.875,"color":"#fff"},{"offset":0.88,"color":"#fff"}
]}},
"encoding": {
"x": {"field": "mass", "type": "quantitative", "scale": {"domain": [0, 200], "nice": false, "zero": false},
 "axis": {"orient": "bottom", "values": [4,8,12,16,24,28,32,36,44,48,52,56,64,68,72,76,84,88,92,96,104,108,112,116,124,128,132,136,144,148,152,156,164,168,172,176,184,188,192,196], "tickSize": -5, "tickColor": "#000", "tickWidth": 1, "labels": false, "domain": false, "title": null, "zindex": 1}},
"y": {"field": "y1", "type": "quantitative", "scale": {"domain": [0, 155], "nice": false},
 "axis": {"orient": "left", "values": [4,8,12,16,24,28,32,36,44,48,52,56,64,68,72,76,84,88,92,96,104,108,112,116,124,128,132,136,144,148,152], "tickSize": -5, "tickColor": "#000", "tickWidth": 1, "labels": false, "domain": false, "title": null, "zindex": 1}},
"y2": {"field": "y0"},
"order": [{"field": "mass", "type": "quantitative"}, {"field": "lo", "type": "quantitative"}]
}
},
{
"transform": [{"filter": {"field": "process", "equal": "VV"}}],
"mark": {"type": "bar", "strokeWidth": 0, "fill": {"gradient": "linear", "x1": 0, "y1": 0, "x2": 1, "y2": 0, "stops": [
{"offset":0,"color":"#fff"},{"offset":0.05,"color":"#fff"},{"offset":0.05,"color":"#0f0"},{"offset":0.2,"color":"#0f0"},{"offset":0.2,"color":"#fff"},{"offset":0.3,"color":"#fff"},{"offset":0.3,"color":"#0f0"},{"offset":0.45,"color":"#0f0"},{"offset":0.45,"color":"#fff"},{"offset":0.55,"color":"#fff"},{"offset":0.55,"color":"#0f0"},{"offset":0.7,"color":"#0f0"},{"offset":0.7,"color":"#fff"},{"offset":0.8,"color":"#fff"},{"offset":0.8,"color":"#0f0"},{"offset":0.95,"color":"#0f0"},{"offset":0.95,"color":"#fff"},{"offset":1,"color":"#fff"}
]}},
"encoding": {
"x": {"field": "lo", "type": "quantitative", "scale": {"domain": [0, 200], "nice": false, "zero": false}, "axis": null},
"x2": {"field": "hi"},
"y": {"field": "y1", "type": "quantitative", "scale": {"domain": [0, 155], "nice": false}, "axis": null},
"y2": {"field": "y0"}
}
},
{
"transform": [{"filter": {"field": "process", "equal": "V+Higgs"}}],
"mark": {"type": "rule", "stroke": "#00f", "strokeWidth": 12.24, "strokeDash": [1.4, 2.3], "strokeCap": "butt", "xOffset": 6.12},
"encoding": {
"x": {"field": "lo", "type": "quantitative", "scale": {"domain": [0, 200], "nice": false, "zero": false}, "axis": null},
"y": {"field": "y0", "type": "quantitative", "scale": {"domain": [0, 155], "nice": false}, "axis": null},
"y2": {"field": "y1"}
}
},
{
"transform": [{"filter": {"field": "process", "equal": "V+Higgs"}}, {"fold": ["lo", "hi"], "as": ["edge", "mass"]}],
"mark": {"type": "line", "strokeWidth": 1.5, "strokeJoin": "miter", "strokeCap": "butt"},
"encoding": {
"x": {"field": "mass", "type": "quantitative", "scale": {"domain": [0, 200], "nice": false, "zero": false}, "axis": null},
"y": {"field": "y1", "type": "quantitative", "scale": {"domain": [0, 155], "nice": false}, "axis": null},
"order": [{"field": "mass", "type": "quantitative"}, {"field": "lo", "type": "quantitative"}],
"stroke": {"field": "process", "type": "nominal", "scale": {"domain": ["qq\u0304", "V+jets", "VV", "V+Higgs"], "range": ["#000", "#f00", "#0f0", "#00f"]},
 "legend": {"orient": "none", "legendX": 210, "legendY": 10, "title": null, "padding": 0, "symbolSize": 169, "symbolStrokeWidth": 1.6, "labelFontSize": 16, "labelFontWeight": "bold", "labelColor": "#000", "labelOffset": 7, "rowPadding": 3.6,
  "encode": {"symbols": {
   "update": {"shape": {"signal": "datum.value == 'V+jets' ? 'M-1,0L0,1M-1,-1L1,1M0,-1L1,0M-1,0.5L-0.5,1M-1,-0.5L0.5,1M-0.5,-1L1,0.5M0.5,-1L1,-0.5' : datum.value == 'VV' ? 'M-1,-1L-1,1M-0.5,-1L-0.5,1M0,-1L0,1M0.5,-1L0.5,1M1,-1L1,1' : datum.value == 'V+Higgs' ? 'M-1,-1L1,-1M-1,-0.5L1,-0.5M-1,0L1,0M-1,0.5L1,0.5M-1,1L1,1' : 'M-1,0L0,-1M-1,1L1,-1M0,1L1,0M-1,-0.5L-0.5,-1M-1,0.5L0.5,-1M-0.5,1L1,-0.5M0.5,1L1,0.5'"}},
   "shape": {"value": {"expr": "datum.value == 'V+jets' ? 'M-1,0L0,1M-1,-1L1,1M0,-1L1,0M-1,0.5L-0.5,1M-1,-0.5L0.5,1M-0.5,-1L1,0.5M0.5,-1L1,-0.5' : datum.value == 'VV' ? 'M-1,-1L-1,1M-0.5,-1L-0.5,1M0,-1L0,1M0.5,-1L0.5,1M1,-1L1,1' : datum.value == 'V+Higgs' ? 'M-1,-1L1,-1M-1,-0.5L1,-0.5M-1,0L1,0M-1,0.5L1,0.5M-1,1L1,1' : 'M-1,0L0,-1M-1,1L1,-1M0,1L1,0M-1,-0.5L-0.5,-1M-1,0.5L0.5,-1M-0.5,1L1,-0.5M0.5,1L1,0.5'"}}
  }}}}
}
},
{
"transform": [{"filter": {"field": "process", "equal": "VV"}}, {"fold": ["lo", "hi"], "as": ["edge", "mass"]}],
"mark": {"type": "line", "strokeWidth": 2, "strokeJoin": "miter", "strokeCap": "butt"},
"encoding": {
"x": {"field": "mass", "type": "quantitative", "scale": {"domain": [0, 200], "nice": false, "zero": false}, "axis": null},
"y": {"field": "y1", "type": "quantitative", "scale": {"domain": [0, 155], "nice": false}, "axis": null},
"order": [{"field": "mass", "type": "quantitative"}, {"field": "lo", "type": "quantitative"}],
"stroke": {"field": "process", "type": "nominal", "scale": {"domain": ["qq\u0304", "V+jets", "VV", "V+Higgs"], "range": ["#000", "#f00", "#0f0", "#00f"]}, "legend": null}
}
},
{
"transform": [{"filter": {"field": "process", "equal": "V+jets"}}, {"fold": ["lo", "hi"], "as": ["edge", "mass"]}],
"mark": {"type": "line", "strokeWidth": 2, "strokeJoin": "miter", "strokeCap": "butt"},
"encoding": {
"x": {"field": "mass", "type": "quantitative", "scale": {"domain": [0, 200], "nice": false, "zero": false}, "axis": null},
"y": {"field": "y1", "type": "quantitative", "scale": {"domain": [0, 155], "nice": false}, "axis": null},
"order": [{"field": "mass", "type": "quantitative"}, {"field": "lo", "type": "quantitative"}],
"stroke": {"field": "process", "type": "nominal", "scale": {"domain": ["qq\u0304", "V+jets", "VV", "V+Higgs"], "range": ["#000", "#f00", "#0f0", "#00f"]}, "legend": null}
}
},
{
"transform": [{"filter": {"field": "process", "equal": "qq\u0304"}}, {"fold": ["lo", "hi"], "as": ["edge", "mass"]}],
"mark": {"type": "line", "strokeWidth": 2, "strokeJoin": "miter", "strokeCap": "butt"},
"encoding": {
"x": {"field": "mass", "type": "quantitative", "scale": {"domain": [0, 200], "nice": false, "zero": false}, "axis": null},
"y": {"field": "y1", "type": "quantitative", "scale": {"domain": [0, 155], "nice": false}, "axis": null},
"order": [{"field": "mass", "type": "quantitative"}, {"field": "lo", "type": "quantitative"}],
"stroke": {"field": "process", "type": "nominal", "scale": {"domain": ["qq\u0304", "V+jets", "VV", "V+Higgs"], "range": ["#000", "#f00", "#0f0", "#00f"]}, "legend": null}
}
},
{
"mark": {"type": "rule", "strokeWidth": 1.3, "xOffset": 6.12, "yOffset": -3, "y2Offset": 3},
"encoding": {
"x": {"field": "lo", "type": "quantitative", "scale": {"domain": [0, 200], "nice": false, "zero": false}, "axis": null},
"y": {"field": "y1", "type": "quantitative", "scale": {"domain": [0, 155], "nice": false}, "axis": null},
"y2": {"field": "y1"},
"stroke": {"field": "process", "type": "nominal", "scale": {"domain": ["qq\u0304", "V+jets", "VV", "V+Higgs"], "range": ["#000", "#f00", "#0f0", "#00f"]}, "legend": null}
}
},
{
"data": {"values": [{}]},
"mark": {"type": "text", "text": "(d)", "fontSize": 19, "align": "left", "baseline": "middle", "color": "#111"},
"encoding": {"x": {"datum": 8.5, "type": "quantitative", "axis": null}, "y": {"datum": 144.4, "type": "quantitative", "axis": null}}
},
{
"data": {"values": [{}]},
"mark": {"type": "text", "text": "S/\u221aB = 4.5", "fontSize": 16, "align": "left", "baseline": "middle", "color": "#111"},
"encoding": {"x": {"datum": 9.8, "type": "quantitative", "axis": null}, "y": {"datum": 130, "type": "quantitative", "axis": null}}
},
{
"data": {"values": [{}]},
"mark": {"type": "text", "text": "in 112-128GeV", "fontSize": 16, "align": "left", "baseline": "middle", "color": "#111"},
"encoding": {"x": {"datum": 9.8, "type": "quantitative", "axis": null}, "y": {"datum": 121, "type": "quantitative", "axis": null}}
}
]
}
